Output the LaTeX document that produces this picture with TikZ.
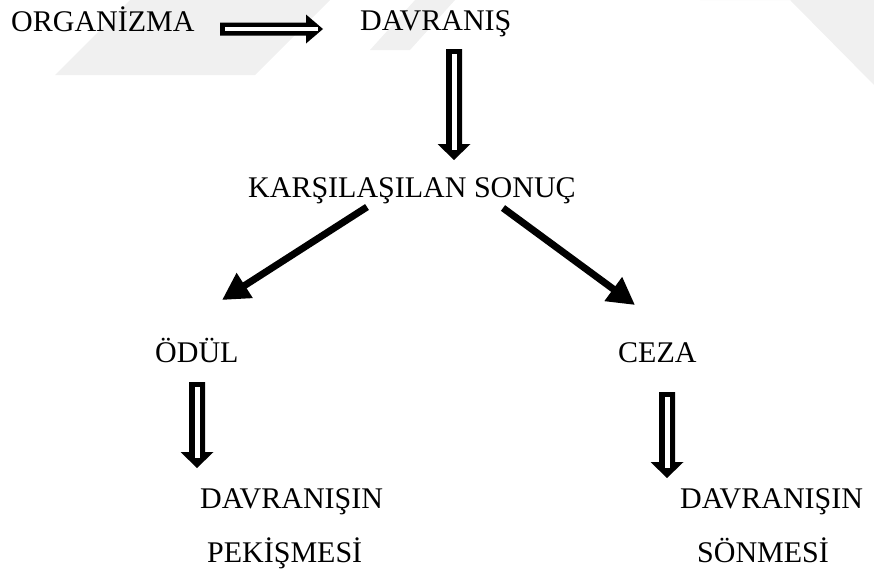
\documentclass[tikz,border=0pt]{standalone}
\usepackage{fontspec}
\setmainfont{Liberation Serif}
\usetikzlibrary{arrows.meta,calc}

\tikzset{
  lbl/.style={inner sep=0pt, anchor=base west, font=\fontsize{30pt}{36pt}\selectfont},
  blockbody/.style={fill=black},
  blockslit/.style={fill=white},
  thickarrow/.style={line width=7pt, -{Triangle[length=27pt 0 0, width=28pt 0 0]}},
  mark band/.style={fill=black!6},
}

% hollow block arrow pointing down: #1 = top of shaft, #2 = tip
\newcommand\downblock[2]{%
  \fill[blockbody] let \p1=(#1), \p2=(#2) in
    (\x1-8pt,\y1) -- (\x1+8pt,\y1) -- (\x1+8pt,\y2+16pt) -- (\x1+16.5pt,\y2+16pt)
    -- (\x1,\y2) -- (\x1-16.5pt,\y2+16pt) -- (\x1-8pt,\y2+16pt) -- cycle;
  \fill[blockslit] let \p1=(#1), \p2=(#2) in
    (\x1-2.5pt,\y1-5pt) rectangle (\x1+2.5pt,\y2+10pt);
}
% hollow block arrow pointing right: #1 = tail of shaft, #2 = tip
\newcommand\rightblock[2]{%
  \fill[blockbody] let \p1=(#1), \p2=(#2) in
    (\x1,\y1+6.5pt) -- (\x2-17pt,\y1+6.5pt) -- (\x2-17pt,\y1+14.5pt) -- (\x2,\y1)
    -- (\x2-17pt,\y1-14.5pt) -- (\x2-17pt,\y1-6.5pt) -- (\x1,\y1-6.5pt) -- cycle;
  \fill[blockslit] let \p1=(#1), \p2=(#2) in
    (\x1+4.5pt,\y1+1.7pt) rectangle (\x2-5pt,\y1-1.7pt);
}

\begin{document}
\begin{tikzpicture}[x=1pt,y=-1pt]
  \useasboundingbox (0,0) rectangle (874,573);

  % faint background bands along the top edge
  \fill[mark band] (130,0) -- (330,0) -- (255,75) -- (55,75) -- cycle;
  \fill[mark band] (415,0) -- (455,0) -- (410,50) -- (370,50) -- cycle;
  \fill[mark band] (700,0) -- (790,0) -- (874,85) -- (874,0) -- cycle;

  % labels
  \node[lbl] (org)  at (11,31)   {ORGANİZMA};
  \node[lbl] (dav)  at (360,30)  {DAVRANIŞ};
  \node[lbl] (kar)  at (248,197) {KARŞILAŞILAN SONUÇ};
  \node[lbl] (odul) at (155,362) {ÖDÜL};
  \node[lbl] (ceza) at (618,362) {CEZA};
  \node[lbl] (dv1)  at (200,508) {DAVRANIŞIN};
  \node[lbl] (pek)  at (207,562) {PEKİŞMESİ};
  \node[lbl] (dv2)  at (680,508) {DAVRANIŞIN};
  \node[lbl] (son)  at (697,562) {SÖNMESİ};

  % arrow end points
  \coordinate (h1s) at (220,29);  \coordinate (h1t) at (323,29);
  \coordinate (v1s) at (454,49);  \coordinate (v1t) at (454,160);
  \coordinate (v2s) at (197,382); \coordinate (v2t) at (197,468);
  \coordinate (v3s) at (667,392); \coordinate (v3t) at (667,478);
  \coordinate (d1s) at (367,207); \coordinate (d1t) at (222,300);
  \coordinate (d2s) at (503,208); \coordinate (d2t) at (635,305);

  % connectors
  \rightblock{h1s}{h1t}
  \downblock{v1s}{v1t}
  \downblock{v2s}{v2t}
  \downblock{v3s}{v3t}
  \draw[thickarrow] (d1s) -- (d1t);
  \draw[thickarrow] (d2s) -- (d2t);
\end{tikzpicture}
\end{document}
